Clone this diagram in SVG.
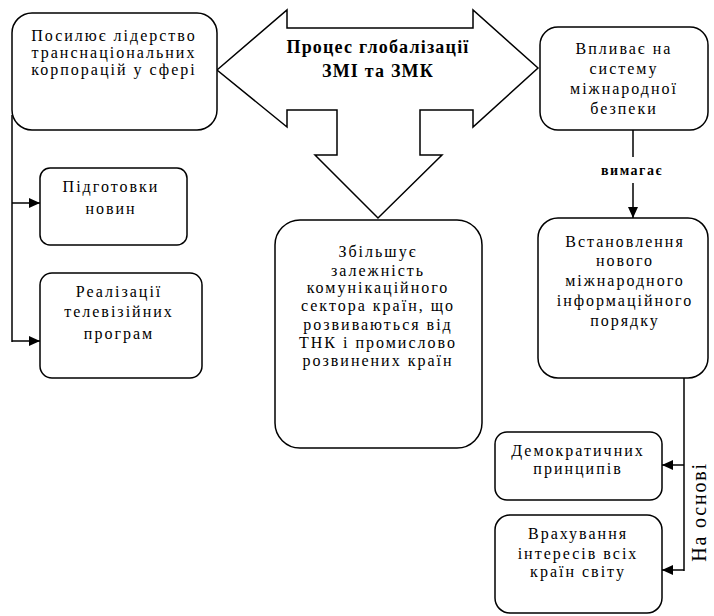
<svg xmlns="http://www.w3.org/2000/svg" width="714" height="616" viewBox="0 0 714 616">
<defs>
<marker id="ah" markerUnits="userSpaceOnUse" markerWidth="12" markerHeight="10" refX="11" refY="5" orient="auto">
<path d="M0,0 L11,5 L0,10 z" fill="#000"/>
</marker>
<style>
.box{fill:#fff;stroke:#000;stroke-width:1.5}
.t{font-family:"Liberation Serif","DejaVu Serif",serif;font-size:16px;letter-spacing:2px;text-anchor:middle;fill:#000}
.tb{font-family:"Liberation Serif","DejaVu Serif",serif;font-size:18px;font-weight:bold;letter-spacing:1.2px;text-anchor:middle;fill:#000}
.lbl{font-family:"Liberation Serif","DejaVu Serif",serif;font-size:14px;font-weight:bold;letter-spacing:1.5px;text-anchor:middle;fill:#000}
.lbl2{font-family:"Liberation Serif","DejaVu Serif",serif;font-size:20px;letter-spacing:1.8px;text-anchor:middle;fill:#000}
.ln{fill:none;stroke:#000;stroke-width:1.5}
</style>
</defs>
<rect width="714" height="616" fill="#fff"/>

<g id="connectors">
<path class="ln" d="M12,115 V342"/>
<path class="ln" d="M12,203 H40" marker-end="url(#ah)"/>
<path class="ln" d="M12,341 H40" marker-end="url(#ah)"/>
<path class="ln" d="M633,130 V157"/>
<path class="ln" d="M633,183 V218" marker-end="url(#ah)"/>
<text class="lbl" x="632" y="175">вимагає</text>
<path class="ln" d="M684,378 V571"/>
<path class="ln" d="M684,465 H662" marker-end="url(#ah)"/>
<path class="ln" d="M684,570 H662" marker-end="url(#ah)"/>
<text class="lbl2" transform="translate(706,512) rotate(-90)" x="0" y="0">На основі</text>
</g>

<g id="process">
<path class="box" stroke-linejoin="miter" d="M217,70 L287,10 L287,28 L473,28 L473,10 L538,68 L473,127 L473,110 L420,110 L420,155 L442,155 L378,218 L315,155 L337,155 L337,110 L287,110 L287,127 Z"/>
<text class="tb" x="378" y="53">Процес глобалізації</text>
<text class="tb" x="378" y="77">ЗМІ та ЗМК</text>
</g>

<g id="n-leadership">
<rect class="box" x="12" y="13" width="205" height="117" rx="20"/>
<text class="t" x="114" y="41">Посилює лідерство</text>
<text class="t" x="114" y="58">транснаціональних</text>
<text class="t" x="114" y="75">корпорацій у сфері</text>
</g>

<g id="n-news">
<rect class="box" x="40" y="168" width="147" height="77" rx="10"/>
<text class="t" x="111" y="192">Підготовки</text>
<text class="t" x="111" y="214">новин</text>
</g>

<g id="n-tv">
<rect class="box" x="40" y="273" width="162" height="105" rx="12"/>
<text class="t" x="119" y="297">Реалізації</text>
<text class="t" x="119" y="317">телевізійних</text>
<text class="t" x="119" y="339">програм</text>
</g>

<g id="n-dependence">
<rect class="box" x="275" y="220" width="207" height="228" rx="25"/>
<text class="t" x="378" y="257">Збільшує</text>
<text class="t" x="378" y="276">залежність</text>
<text class="t" x="378" y="293">комунікаційного</text>
<text class="t" x="378" y="311">сектора країн, що</text>
<text class="t" x="378" y="330">розвиваються від</text>
<text class="t" x="378" y="348">ТНК і промислово</text>
<text class="t" x="378" y="366">розвинених країн</text>
</g>

<g id="n-security">
<rect class="box" x="540" y="27" width="168" height="103" rx="18"/>
<text class="t" x="624" y="54">Впливає на</text>
<text class="t" x="624" y="74">систему</text>
<text class="t" x="624" y="94">міжнародної</text>
<text class="t" x="624" y="114">безпеки</text>
</g>

<g id="n-order">
<rect class="box" x="538" y="218" width="170" height="160" rx="20"/>
<text class="t" x="625" y="247">Встановлення</text>
<text class="t" x="625" y="266">нового</text>
<text class="t" x="625" y="286">міжнародного</text>
<text class="t" x="625" y="306">інформаційного</text>
<text class="t" x="625" y="326">порядку</text>
</g>

<g id="n-democratic">
<rect class="box" x="495" y="432" width="167" height="68" rx="12"/>
<text class="t" x="578" y="456">Демократичних</text>
<text class="t" x="578" y="474">принципів</text>
</g>

<g id="n-interests">
<rect class="box" x="495" y="515" width="167" height="98" rx="15"/>
<text class="t" x="578" y="539">Врахування</text>
<text class="t" x="578" y="559">інтересів всіх</text>
<text class="t" x="578" y="577">країн світу</text>
</g>
</svg>
